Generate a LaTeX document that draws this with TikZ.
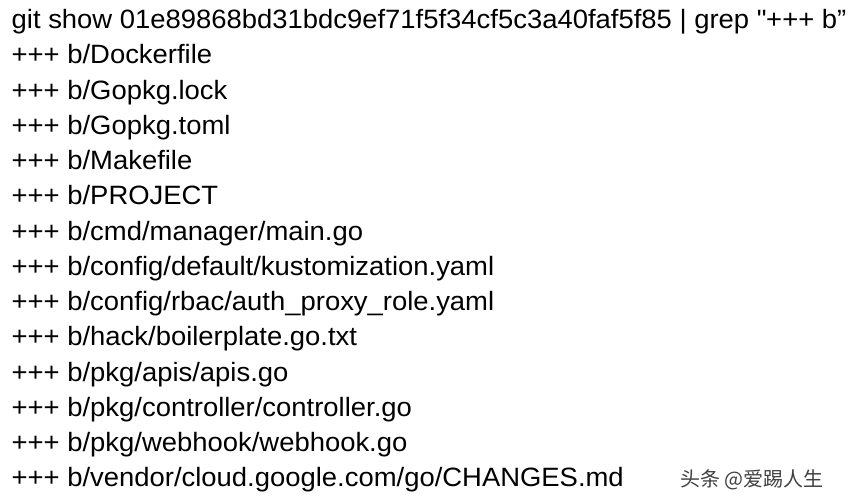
\documentclass[tikz,border=0pt]{standalone}
\usepackage{fontspec}
\setmainfont{Liberation Sans}[FakeStretch=1.035]
\newfontfamily\cjk{Noto Sans CJK SC}
\begin{document}
\begin{tikzpicture}[x=1pt,y=-1pt,
  codeline/.style={anchor=base west,inner sep=0pt,text=black,font=\fontsize{26.5}{30}\selectfont},
  watermark/.style={anchor=base west,inner sep=0pt,text=black!75,font=\cjk\fontsize{20}{24}\selectfont}]
\useasboundingbox[fill=white] (0,0) rectangle (850,503);
\def\lx{11.5}
\node[codeline] (l1) at (\lx,28.5) {git show 01e89868bd31bdc9ef71f5f34cf5c3a40faf5f85 | grep \textquotedbl+++ b”};
\node[codeline] (l2) at (\lx,63.75) {+++ b/Dockerfile};
\node[codeline] (l3) at (\lx,99.0) {+++ b/Gopkg.lock};
\node[codeline] (l4) at (\lx,134.25) {+++ b/Gopkg.toml};
\node[codeline] (l5) at (\lx,169.5) {+++ b/Makefile};
\node[codeline] (l6) at (\lx,204.75) {+++ b/PROJECT};
\node[codeline] (l7) at (\lx,240.0) {+++ b/cmd/manager/main.go};
\node[codeline] (l8) at (\lx,275.25) {+++ b/config/default/kustomization.yaml};
\node[codeline] (l9) at (\lx,310.5) {+++ b/config/rbac/auth\_proxy\_role.yaml};
\node[codeline] (l10) at (\lx,345.75) {+++ b/hack/boilerplate.go.txt};
\node[codeline] (l11) at (\lx,381.0) {+++ b/pkg/apis/apis.go};
\node[codeline] (l12) at (\lx,416.25) {+++ b/pkg/controller/controller.go};
\node[codeline] (l13) at (\lx,451.5) {+++ b/pkg/webhook/webhook.go};
\node[codeline] (l14) at (\lx,486.75) {+++ b/vendor/cloud.google.com/go/CHANGES.md};
\node[watermark] (wm) at (680,486) {头条 @爱踢人生};
\end{tikzpicture}
\end{document}
